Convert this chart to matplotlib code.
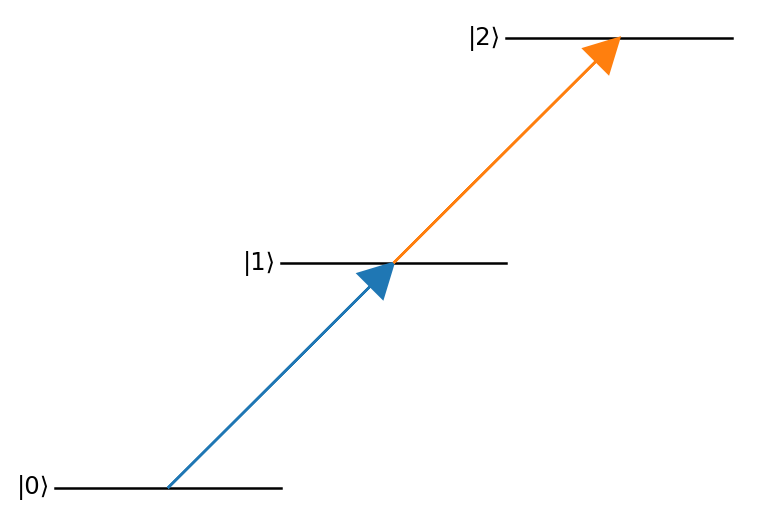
import matplotlib
matplotlib.use("Agg")
import matplotlib.pyplot as plt

labels = [r"|0⟩", r"|1⟩", r"|2⟩"]
energies = [0, 1, 2]
level_starts = [0, 1, 2]
level_width = 1.0
arrow_colors = ["C0", "C1"]

fig = plt.figure(figsize=(7.8, 5.26), dpi=100)
ax = fig.add_axes([0, 0, 1, 1])
ax.set_xlim(-0.2437, 3.2123)
ax.set_ylim(-0.169, 2.169)
ax.axis("off")

for lab, e, x0 in zip(labels, energies, level_starts):
    ax.plot([x0, x0 + level_width], [e, e], color="black", lw=1.8)
    ax.text(x0 - 0.022, e, lab, ha="right", va="center", fontsize=17.5)

for i, c in enumerate(arrow_colors):
    x0 = level_starts[i] + level_width / 2
    x1 = level_starts[i + 1] + level_width / 2
    ax.arrow(x0, energies[i], x1 - x0, energies[i + 1] - energies[i],
             width=0.0, head_width=0.155, head_length=0.145,
             length_includes_head=True, color=c, lw=1.8, zorder=3)

fig.savefig("out.png", dpi=100)
